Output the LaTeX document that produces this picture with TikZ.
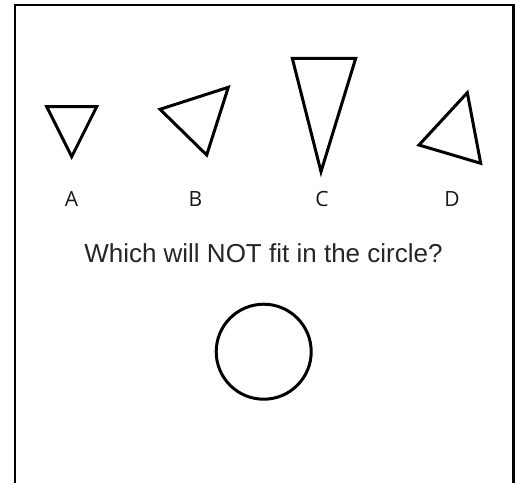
\documentclass[tikz,border=0pt]{standalone}
\usepackage{fontspec}
\setmainfont{Liberation Sans}
\newfontfamily\labelfont{Open Sans}
\begin{document}
\begin{tikzpicture}[x=1pt,y=-1pt,
  outline/.style={draw=black,line width=3pt,line join=miter},
  frame/.style={draw=black,line width=2.2pt},
  lbl/.style={anchor=base,inner sep=0pt,font=\labelfont\fontsize{21}{21}\selectfont,text=black!90},
  question/.style={anchor=base,inner sep=0pt,font=\fontsize{26}{27}\selectfont,text=black!85}]
\useasboundingbox (0,0) rectangle (519,482);
\fill[white] (0,0) rectangle (519,482);
\begin{scope}
\clip (0,0) rectangle (519,482);
\draw[frame] (15,490) -- (15,5) -- (513.5,5) -- (513.5,490);
\end{scope}
% triangles
\draw[outline] (46.7,106.7) -- (96.7,106.7) -- (71.7,156.7) -- cycle;
\draw[outline] (160,109.3) -- (228.3,87.3) -- (206.7,155) -- cycle;
\draw[outline] (292.3,58.3) -- (355.7,58.3) -- (321,171.7) -- cycle;
\draw[outline] (467.3,92.7) -- (480.7,163.3) -- (419,145) -- cycle;
% labels
\node[lbl] (la) at (71.5,206) {A};
\node[lbl] (lb) at (195.5,206) {B};
\node[lbl] (lc) at (322,206) {C};
\node[lbl] (ld) at (452,206) {D};
\node[question] (q) at (263.4,262) {Which will NOT fit in the circle?};
\draw[outline] (263.7,351.7) circle[radius=47.5];
\end{tikzpicture}
\end{document}
